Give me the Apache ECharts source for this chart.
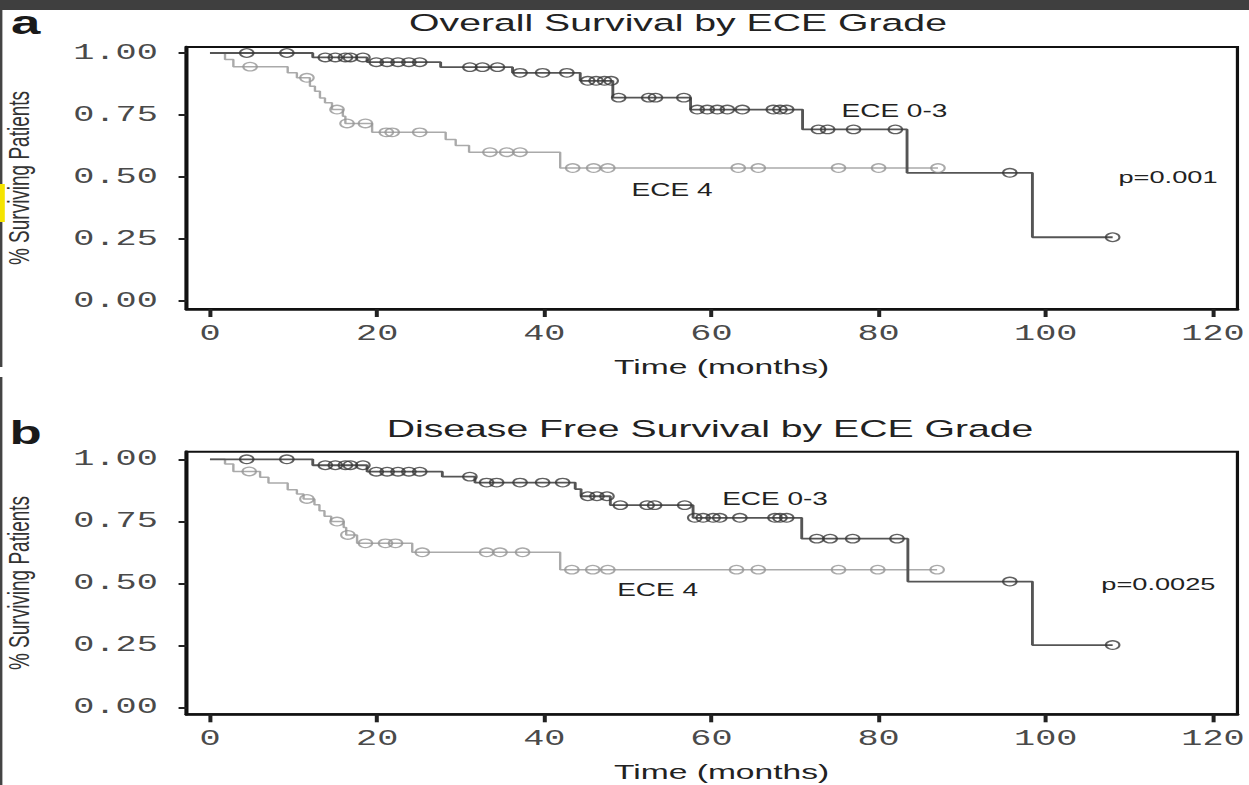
<!DOCTYPE html>
<html><head><meta charset="utf-8">
<script src="https://cdn.jsdelivr.net/npm/echarts@6/dist/echarts.min.js"></script>
<style>
html,body{margin:0;padding:0;background:#fff;overflow:hidden;}
#wrap{width:1249px;height:785px;overflow:hidden;position:relative;background:#fff;}
#chart{width:780.625px;height:785px;transform:scaleX(1.6);transform-origin:0 0;}
</style></head>
<body><div id="wrap"><div id="chart"></div></div>
<script>
// ---- tick values ----
const xTicks = [0, 20, 40, 60, 80, 100, 120];
const yTicks = [0, 0.25, 0.5, 0.75, 1];

// ---- panel a: Overall Survival ----
// ECE 0-3: event times and survival after each event
const osT03 = [0, 12.3, 18.8, 27.6, 36.2, 44.3, 48.2, 57.5, 70.9, 83.4, 98.4];
const osS03 = [1.0, 0.982, 0.963, 0.943, 0.920, 0.888, 0.820, 0.772, 0.692, 0.517, 0.257];
const osC03 = [4.4, 9.2, 13.8, 15.0, 16.2, 16.8, 18.3, 19.9, 21.2, 22.5, 23.8, 25.1, 31.1, 32.6, 34.4,
               37.1, 39.8, 42.7, 45.2, 46.2, 47.2, 48.0, 48.9, 52.5, 53.3, 56.7, 58.3, 59.5, 60.7, 61.9,
               63.7, 67.4, 68.2, 69.0, 72.8, 73.9, 77.0, 82.0, 95.7, 108.0];
// ECE 4
const osT4 = [0, 1.8, 2.8, 9.3, 10.4, 11.96, 12.56, 13.16, 13.76, 14.6, 15.9, 16.2, 19.4, 28.2, 29.4, 31.0, 41.9];
const osS4 = [1.0, 0.974, 0.945, 0.920, 0.900, 0.866, 0.846, 0.819, 0.799, 0.772, 0.745, 0.716, 0.680, 0.651, 0.627, 0.600, 0.536];
const osC4 = [4.8, 11.6, 15.2, 16.4, 18.6, 21.1, 21.8, 25.1, 33.5, 35.5, 37.1, 43.4, 45.9, 47.6, 63.2, 65.6, 75.2, 80.0, 87.1];

// ---- panel b: Disease Free Survival ----
const dfT03 = [0, 12.3, 18.8, 27.8, 31.7, 43.7, 44.4, 47.9, 57.8, 70.8, 83.5, 98.4];
const dfS03 = [1.0, 0.976, 0.950, 0.930, 0.906, 0.880, 0.851, 0.815, 0.764, 0.680, 0.507, 0.251];
const dfC03 = [4.4, 9.2, 13.8, 15.0, 16.2, 16.8, 18.3, 19.9, 21.2, 22.5, 23.8, 25.1, 31.1, 33.1, 34.3,
               37.1, 39.8, 42.2, 45.2, 46.3, 47.5, 49.1, 52.3, 53.2, 56.8, 58.0, 59.0, 60.2, 61.0, 63.4,
               67.6, 68.2, 69.0, 72.6, 74.2, 76.9, 82.2, 95.7, 108.0];
const dfT4 = [0, 1.8, 2.8, 6.0, 7.0, 9.3, 10.4, 11.2, 12.5, 13.1, 13.7, 14.5, 16.0, 16.3, 17.6, 24.2, 41.9];
const dfS4 = [1.0, 0.981, 0.951, 0.928, 0.904, 0.877, 0.860, 0.840, 0.817, 0.793, 0.770, 0.749, 0.725, 0.695, 0.661, 0.625, 0.555];
const dfC4 = [4.7, 11.6, 15.2, 16.5, 18.6, 21.0, 22.2, 25.4, 33.1, 34.7, 37.4, 43.3, 45.8, 47.6, 63.0, 65.6, 75.2, 79.9, 87.0];

// ---- text ----
const titleA = 'Overall Survival by ECE Grade';
const titleB = 'Disease Free Survival by ECE Grade';
const pA = 'p=0.001';
const pB = 'p=0.0025';

// ---- helpers ----
function stepData(T, S, C) {
  const d = T.map((t, i) => [t, S[i]]);
  const end = Math.max(T[T.length - 1], C[C.length - 1]);
  d.push([end, S[S.length - 1]]);
  return d;
}
function levelAt(T, S, t) {
  let v = S[0];
  for (let i = 0; i < T.length; i++) { if (T[i] <= t) v = S[i]; }
  return v;
}
function censorData(T, S, C) { return C.map(t => [t, levelAt(T, S, t)]); }

const DARK_LINE = '#555', DARK_MARK = '#383838';
const LIGHT_LINE = '#aaa', LIGHT_MARK = '#959595';
const MONO = '"Liberation Mono", "DejaVu Sans Mono", monospace';
const SANS = '"Liberation Sans", Arial, sans-serif';

function makeX(gi) {
  return {
    type: 'value', gridIndex: gi, min: -2.8, max: 122.93,
    axisLine: { show: true, onZero: false, lineStyle: { color: '#111', width: 2.5 } },
    axisTick: { show: true, customValues: xTicks, length: 8, lineStyle: { color: '#222', width: 2.5 } },
    axisLabel: { customValues: xTicks, margin: 14, fontFamily: MONO, fontSize: 22, color: '#4a4a4a' },
    splitLine: { show: false },
    name: 'Time (months)', nameLocation: 'middle', nameGap: 47,
    nameTextStyle: { fontFamily: SANS, fontSize: 21, color: '#222', padding: [0, 0, 0, 12] }
  };
}
function makeY(gi, mn, mx) {
  return {
    type: 'value', gridIndex: gi, min: mn, max: mx,
    axisLine: { show: true, onZero: false, lineStyle: { color: '#111', width: 2.5 } },
    axisTick: { show: true, customValues: yTicks, length: 5, lineStyle: { color: '#222', width: 2 } },
    axisLabel: { customValues: yTicks, margin: 18, fontFamily: MONO, fontSize: 22, color: '#4a4a4a',
                 formatter: v => v.toFixed(2) },
    splitLine: { show: false },
    name: '% Surviving Patients', nameLocation: 'middle', nameGap: 96,
    nameTextStyle: { fontFamily: SANS, fontSize: 19, color: '#333' }
  };
}
function lineS(gi, data, color, w) {
  return { type: 'line', xAxisIndex: gi, yAxisIndex: gi, data: data, step: 'end', symbol: 'none',
           showSymbol: false, silent: true, z: 2, lineStyle: { color: color, width: w } };
}
function markS(gi, data, color) {
  return { type: 'scatter', xAxisIndex: gi, yAxisIndex: gi, data: data, symbol: 'circle', symbolSize: 8.5,
           silent: true, z: 3, itemStyle: { color: 'rgba(0,0,0,0)', borderColor: color, borderWidth: 1.3 } };
}
function txt(x, y, text, size, weight, color) {
  return { type: 'text', x: x, y: y, silent: true, z: 10,
           style: { text: text, fontSize: size, fontFamily: SANS, fontWeight: weight || 'normal',
                    fill: color || '#222', align: 'center', verticalAlign: 'middle' } };
}

const chart = echarts.init(document.getElementById('chart'), null, { renderer: 'svg' });
chart.setOption({
  animation: false,
  backgroundColor: '#fff',
  grid: [
    { left: 116.6, top: 47, width: 656.8, height: 262, show: true, borderColor: '#111', borderWidth: 2,
      backgroundColor: 'transparent', containLabel: false, outerBoundsMode: 'none' },
    { left: 116.6, top: 451.7, width: 656.8, height: 262.6, show: true, borderColor: '#111', borderWidth: 2,
      backgroundColor: 'transparent', containLabel: false, outerBoundsMode: 'none' }
  ],
  xAxis: [makeX(0), makeX(1)],
  yAxis: [makeY(0, -0.0323, 1.0242), makeY(1, -0.0282, 1.0306)],
  series: [
    lineS(0, stepData(osT4, osS4, osC4), LIGHT_LINE, 1.5),
    lineS(0, stepData(osT03, osS03, osC03), DARK_LINE, 1.8),
    markS(0, censorData(osT4, osS4, osC4), LIGHT_MARK),
    markS(0, censorData(osT03, osS03, osC03), DARK_MARK),
    lineS(1, stepData(dfT4, dfS4, dfC4), LIGHT_LINE, 1.5),
    lineS(1, stepData(dfT03, dfS03, dfC03), DARK_LINE, 1.8),
    markS(1, censorData(dfT4, dfS4, dfC4), LIGHT_MARK),
    markS(1, censorData(dfT03, dfS03, dfC03), DARK_MARK)
  ],
  graphic: [
    { type: 'rect', silent: true, shape: { x: 0, y: 0, width: 781, height: 10 }, style: { fill: '#3f3f3f' } },
    { type: 'rect', silent: true, shape: { x: 0, y: 10, width: 1.5, height: 357 }, style: { fill: '#444' } },
    { type: 'rect', silent: true, shape: { x: 0, y: 377, width: 1.5, height: 408 }, style: { fill: '#444' } },
    { type: 'rect', silent: true, shape: { x: 0, y: 184, width: 3, height: 38 }, style: { fill: '#f5e400' } },
    txt(16, 22, 'a', 33, 'bold', '#1a1a1a'),
    txt(16, 432, 'b', 33, 'bold', '#1a1a1a'),
    txt(423.75, 22, titleA, 24.5),
    txt(443.75, 428, titleB, 24.5),
    txt(559, 111.5, 'ECE 0-3', 17.5),
    txt(420, 190, 'ECE 4', 17.5),
    txt(730, 177.5, pA, 17),
    txt(484.4, 499.5, 'ECE 0-3', 17.5),
    txt(411, 590.5, 'ECE 4', 17.5),
    txt(724, 584, pB, 17)
  ]
});
</script>
</body></html>
